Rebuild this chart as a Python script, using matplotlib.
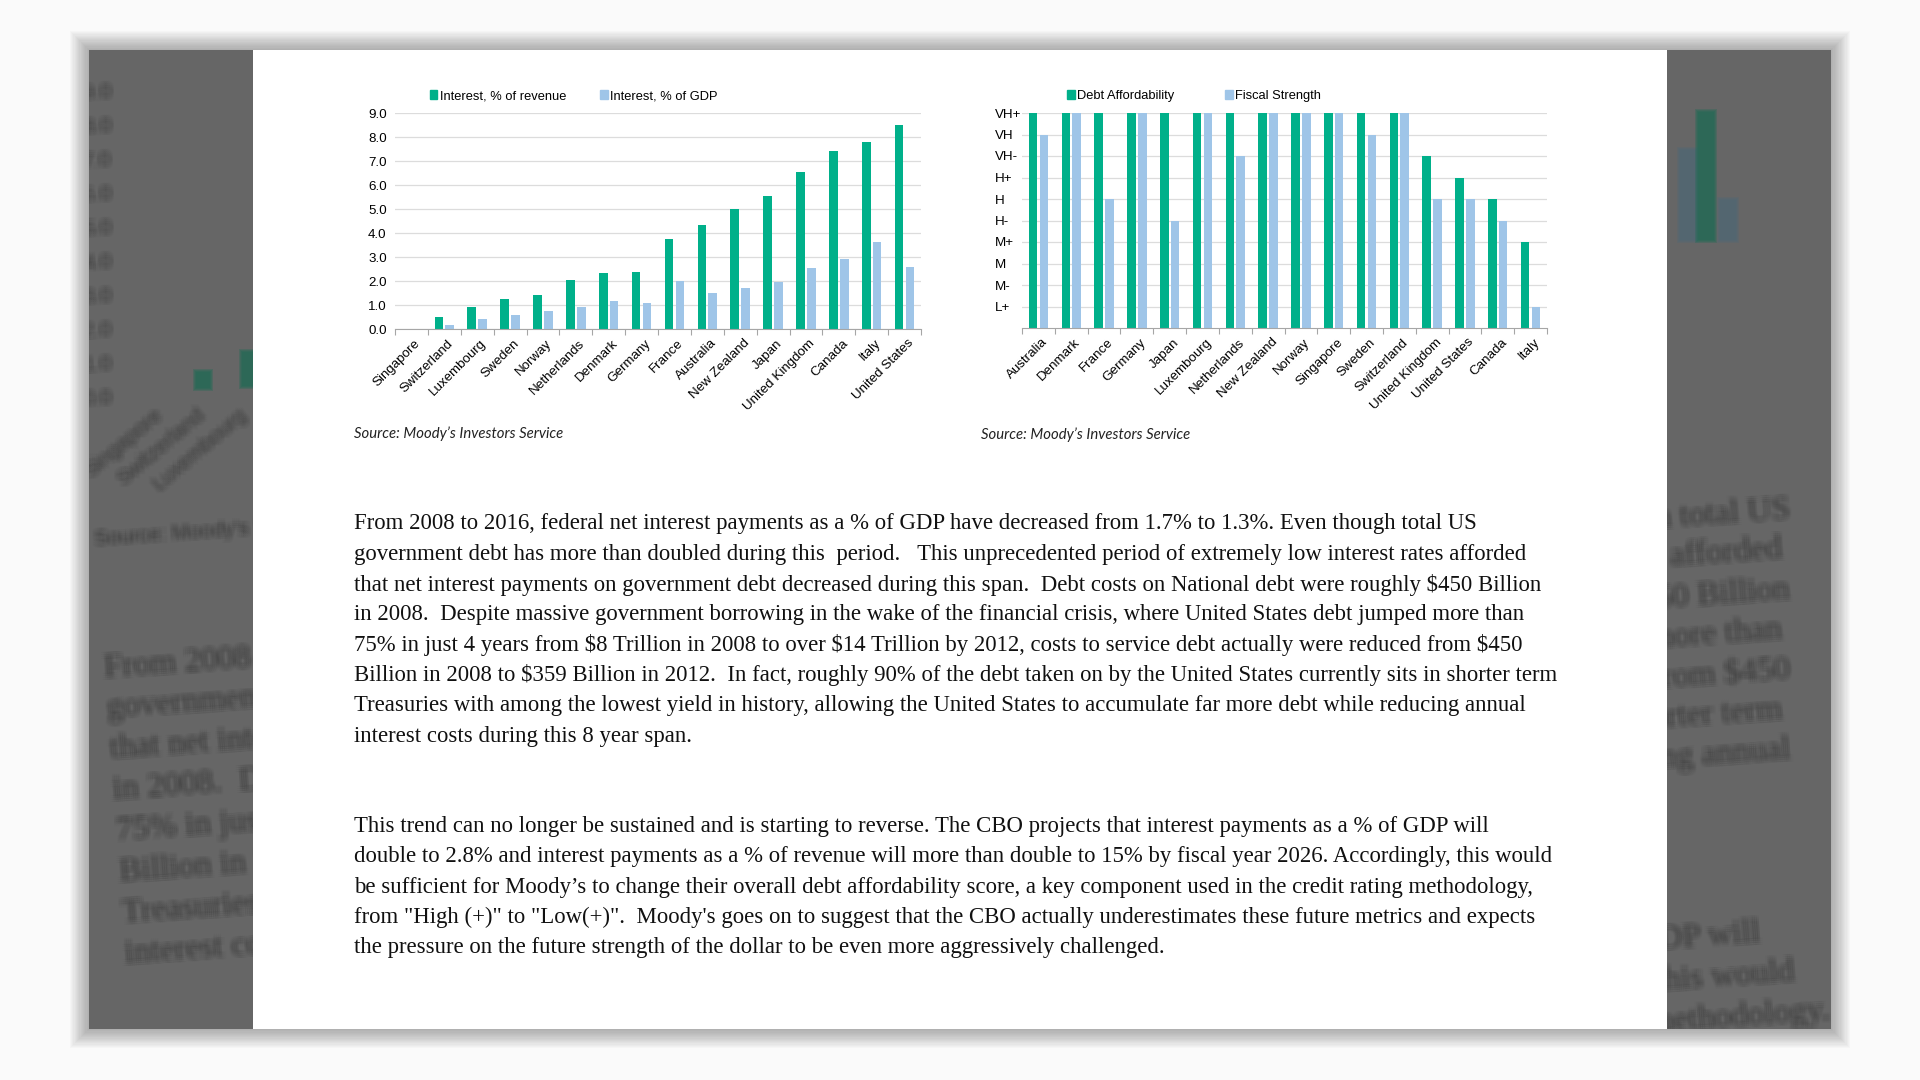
import numpy as np
import matplotlib.pyplot as plt
import matplotlib.transforms as mtransforms
from matplotlib.patches import Rectangle, Patch

# ---- data: left chart (interest burden) ----
countries_interest = ['Singapore', 'Switzerland', 'Luxembourg', 'Sweden', 'Norway', 'Netherlands',
                      'Denmark', 'Germany', 'France', 'Australia', 'New Zealand', 'Japan',
                      'United Kingdom', 'Canada', 'Italy', 'United States']
interest_pct_revenue = [0.0, 0.52, 0.92, 1.24, 1.40, 2.05, 2.33, 2.38, 3.76, 4.32, 4.99, 5.55,
                        6.56, 7.40, 7.81, 8.48]
interest_pct_gdp = [0.0, 0.17, 0.40, 0.60, 0.76, 0.91, 1.17, 1.07, 2.01, 1.50, 1.72, 1.96,
                    2.53, 2.91, 3.62, 2.59]

# ---- data: right chart (Moody's scores) ----
countries_scores = ['Australia', 'Denmark', 'France', 'Germany', 'Japan', 'Luxembourg', 'Netherlands',
                    'New Zealand', 'Norway', 'Singapore', 'Sweden', 'Switzerland', 'United Kingdom',
                    'United States', 'Canada', 'Italy']
score_scale = ['L+', 'M-', 'M', 'M+', 'H-', 'H', 'H+', 'VH-', 'VH', 'VH+']
debt_affordability = ['VH+', 'VH+', 'VH+', 'VH+', 'VH+', 'VH+', 'VH+', 'VH+', 'VH+', 'VH+', 'VH+', 'VH+',
                      'VH-', 'H+', 'H', 'M+']
fiscal_strength = ['VH', 'VH+', 'H', 'VH+', 'H-', 'VH+', 'VH-', 'VH+', 'VH+', 'VH+', 'VH', 'VH+',
                   'H', 'H', 'H-', 'L+']

source_note = "Source: Moody\u2019s Investors Service"

para1 = [
    "From 2008 to 2016, federal net interest payments as a % of GDP have decreased from 1.7% to 1.3%. Even though total US",
    "government debt has more than doubled during this  period.   This unprecedented period of extremely low interest rates afforded",
    "that net interest payments on government debt decreased during this span.  Debt costs on National debt were roughly $450 Billion",
    "in 2008.  Despite massive government borrowing in the wake of the financial crisis, where United States debt jumped more than",
    "75% in just 4 years from $8 Trillion in 2008 to over $14 Trillion by 2012, costs to service debt actually were reduced from $450",
    "Billion in 2008 to $359 Billion in 2012.  In fact, roughly 90% of the debt taken on by the United States currently sits in shorter term",
    "Treasuries with among the lowest yield in history, allowing the United States to accumulate far more debt while reducing annual",
    "interest costs during this 8 year span.",
]
para2 = [
    "This trend can no longer be sustained and is starting to reverse. The CBO projects that interest payments as a % of GDP will",
    "double to 2.8% and interest payments as a % of revenue will more than double to 15% by fiscal year 2026. Accordingly, this would",
    "be sufficient for Moody\u2019s to change their overall debt affordability score, a key component used in the credit rating methodology,",
    "from \"High (+)\" to \"Low(+)\".  Moody's goes on to suggest that the CBO actually underestimates these future metrics and expects",
    "the pressure on the future strength of the dollar to be even more aggressively challenged.",
]

GREEN = '#00b08a'
BLUE = '#9fc5e8'
W, H = 1920, 1080


def fx(x):
    return x / W


def fy(y):
    return 1 - y / H


fig = plt.figure(figsize=(19.2, 10.8), dpi=100, facecolor='#fafafa')

# backdrop: soft shadow, dark panel, white page
for i in range(16):
    g = 16 - i
    fig.patches.append(Rectangle((fx(89 - g * 1.2), fy(1029 + g * 1.2)), (1742 + g * 2.4) / W,
                                 (979 + g * 2.4) / H, transform=fig.transFigure,
                                 color='black', alpha=0.018, lw=0, zorder=0))
fig.patches.append(Rectangle((fx(89), fy(1029)), 1742 / W, 979 / H, transform=fig.transFigure,
                             color='#666666', lw=0, zorder=0.5))
fig.patches.append(Rectangle((fx(253), fy(1029)), 1414 / W, 979 / H, transform=fig.transFigure,
                             color='white', lw=0, zorder=2))

panel_clip = mtransforms.TransformedBbox(
    mtransforms.Bbox.from_extents(fx(89), fy(1029), fx(1831), fy(50)), fig.transFigure)


def blurred_text(x, y, s, size, rot=4, ha='left', color='#303030', family='Liberation Serif'):
    # fake blur: stack shifted faint copies
    for dx in (-3, -1, 1, 3):
        for dy in (-3, -1, 1, 3):
            tr = mtransforms.offset_copy(fig.transFigure, fig=fig, x=dx, y=dy, units='dots')
            t = fig.text(fx(x), fy(y), s, transform=tr, fontsize=size, rotation=rot, ha=ha,
                         va='center', color=color, alpha=0.055, family=family, zorder=1,
                         parse_math=False, rotation_mode='anchor')
            t.set_clip_box(panel_clip)
            t.set_clip_on(True)


def blurred_bar(x0, y0, x1, y1, color):
    for g in range(4):
        fig.patches.append(Rectangle((fx(x0 - g), fy(y1 + g)), (x1 - x0 + 2 * g) / W, (y1 - y0 + 2 * g) / H,
                                     transform=fig.transFigure, color=color, alpha=0.3, lw=0, zorder=1))


# blurred background content (left strip)
for i, lab in enumerate(['9.0', '8.0', '7.0', '6.0', '5.0', '4.0', '3.0', '2.0', '1.0', '0.0']):
    blurred_text(112, 92 + i * 34, lab, 15, rot=3, ha='right', family='Liberation Sans', color='#333333')
blurred_bar(196, 372, 210, 388, '#1d6b55')
blurred_bar(242, 352, 256, 386, '#1d6b55')
for i, lab in enumerate(['Singapore', 'Switzerland', 'Luxembourg']):
    blurred_text(160 + i * 42, 412, lab, 15, rot=40, ha='right', family='Liberation Sans', color='#333333')
blurred_text(94, 540, "Source: Moody's Investors Service", 15, rot=4, family='Liberation Sans')
left_bg = ['From 2008 to 2016, federal', 'government debt has', 'that net interest pay', 'in 2008.  Despite',
           '75% in just 4 years', 'Billion in 2008 to', 'Treasuries with among', 'interest costs during']
for i, s in enumerate(left_bg):
    blurred_text(104 + i * 3, 668 + i * 41, s, 24)

# blurred background content (right strip)
blurred_bar(1680, 150, 1696, 240, '#4f6675')
blurred_bar(1698, 112, 1714, 240, '#1d6b55')
blurred_bar(1720, 200, 1736, 240, '#4f6675')
right_bg = ['even though total US', 'interest rates afforded', 'roughly $450 Billion', 'debt jumped more than',
            'reduced from $450', 'sits in shorter term', 'while reducing annual']
for i, s in enumerate(right_bg):
    blurred_text(1790 - (i % 2) * 8, 510 + i * 40, s, 24, ha='right')
for i, s in enumerate(['a % of GDP will', 'Accordingly, this would', 'rating methodology.']):
    blurred_text(1760 + i * 35, 933 + i * 39, s, 24, ha='right')


def style_axes(ax, cats):
    x = np.arange(len(cats))
    ax.set_xlim(-0.5, len(cats) - 0.5)
    # labels sit a little right of the bar-pair centre, as in the source chart
    ax.set_xticks(x + 0.22)
    ax.set_xticklabels(cats, rotation=45, ha='right', va='center', rotation_mode='anchor',
                       fontsize=9.6, family='Liberation Sans')
    ax.set_xticks(np.arange(len(cats) + 1) - 0.5, minor=True)
    ax.tick_params(axis='x', which='major', length=0, pad=9)
    ax.tick_params(axis='x', which='minor', length=4, color='#a6a6a6', width=0.8)
    ax.tick_params(axis='y', length=0, labelsize=9.6, pad=6)
    for lab in ax.get_yticklabels():
        lab.set_family('Liberation Sans')
    for s in ['top', 'right', 'left']:
        ax.spines[s].set_visible(False)
    ax.spines['bottom'].set_color('#a6a6a6')
    ax.grid(axis='y', color='#dcdcdc', lw=0.9)
    ax.set_axisbelow(True)
    ax.set_facecolor('none')
    ax.set_zorder(3)


def add_legend(ax, labels, x_anchor, spacing):
    handles = [Patch(color=GREEN), Patch(color=BLUE)]
    ax.legend(handles, labels, ncol=2, loc='lower left', bbox_to_anchor=(x_anchor, 1.0), frameon=False,
              prop={'family': 'Liberation Sans', 'size': 9.3}, handlelength=0.6, handleheight=0.6,
              handletextpad=0.2, columnspacing=spacing, borderaxespad=0.45)


bw = 0.26
off = 0.165

# left chart
ax1 = fig.add_axes([fx(395), fy(329), 526 / W, 216 / H])
x1 = np.arange(len(countries_interest))
ax1.bar(x1 - off, interest_pct_revenue, bw, color=GREEN, label='Interest, % of revenue')
ax1.bar(x1 + off, interest_pct_gdp, bw, color=BLUE, label='Interest, % of GDP')
ax1.set_ylim(0, 9)
ax1.set_yticks(np.arange(0, 10, 1))
ax1.set_yticklabels([f'{v:.1f}' for v in np.arange(0, 10, 1)])
style_axes(ax1, countries_interest)
add_legend(ax1, ['Interest, % of revenue', 'Interest, % of GDP'], 0.045, 2.6)

# right chart
ax2 = fig.add_axes([fx(1022), fy(328), 525 / W, 215 / H])
x2 = np.arange(len(countries_scores))
da = [score_scale.index(v) + 1 for v in debt_affordability]
fs = [score_scale.index(v) + 1 for v in fiscal_strength]
ax2.bar(x2 - off, da, bw, color=GREEN)
ax2.bar(x2 + off, fs, bw, color=BLUE)
ax2.set_ylim(0, len(score_scale))
ax2.set_yticks(np.arange(1, len(score_scale) + 1))
ax2.set_yticklabels(score_scale)
style_axes(ax2, countries_scores)
for lab in ax2.get_yticklabels():
    lab.set_horizontalalignment('left')
ax2.tick_params(axis='y', pad=19.5)
add_legend(ax2, ['Debt Affordability', 'Fiscal Strength'], 0.065, 3.9)

# source notes
fig.text(fx(354), fy(434), source_note, fontsize=10.7, style='italic', family='Lato',
         color='#222222', va='center', zorder=4)
fig.text(fx(981), fy(435), source_note, fontsize=10.7, style='italic', family='Lato',
         color='#222222', va='center', zorder=4)

# body text
line_gap = 30.3
for i, s in enumerate(para1):
    fig.text(fx(354), fy(524 + i * line_gap), s, fontsize=16.4, family='Liberation Serif',
             color='#111111', va='center', zorder=4, parse_math=False)
for i, s in enumerate(para2):
    fig.text(fx(354), fy(826.5 + i * line_gap), s, fontsize=16.4, family='Liberation Serif',
             color='#111111', va='center', zorder=4, parse_math=False)

fig.savefig('out.png', dpi=100, facecolor=fig.get_facecolor())
